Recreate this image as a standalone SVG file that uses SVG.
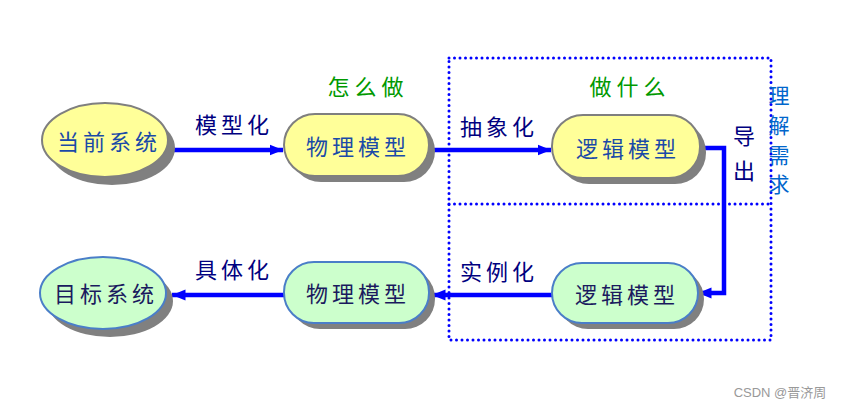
<svg xmlns="http://www.w3.org/2000/svg" width="852" height="410" viewBox="0 0 852 410">
<defs>
<style>
.sh{fill:#808080}
.ny{fill:#FFFF99;stroke:#7F7F7F;stroke-width:2}
.ng{fill:#CCFFCC;stroke:#4A7EC8;stroke-width:2}
.t{font-family:"Noto Sans CJK SC",sans-serif;font-size:22px;letter-spacing:4px;text-anchor:middle;dominant-baseline:central}
.tn{fill:#1A4AA8}
.tg{fill:#1A1A5E}
.lbl{font-family:"Noto Sans CJK SC",sans-serif;font-size:22px;letter-spacing:4px;fill:#000080;text-anchor:middle;dominant-baseline:central}
.v{font-family:"Noto Sans CJK SC",sans-serif;font-size:22px;fill:#000080;text-anchor:middle;dominant-baseline:central}
.grn{font-family:"Noto Sans CJK SC",sans-serif;font-size:22px;letter-spacing:5px;fill:#009900;text-anchor:middle;dominant-baseline:central}
.req{font-family:"Noto Sans CJK SC",sans-serif;font-size:21px;fill:#0066CC;text-anchor:middle;dominant-baseline:central}
.ln{fill:none;stroke:#0000FF;stroke-width:4.5}
.dot{fill:none;stroke:#0000FF;stroke-width:3;stroke-dasharray:0 5.5;stroke-linecap:round}
</style>
<marker id="ah" markerWidth="4" markerHeight="6" refX="3" refY="3" orient="auto" markerUnits="strokeWidth"><path d="M0,1.8 L3,3 L0,4.2 z" fill="#0000FF"/></marker>
</defs>
<rect width="852" height="410" fill="#FFFFFF"/>
<g id="frame">
<path class="dot" d="M449,58 H771 V340 H449 Z"/>
<path class="dot" d="M449,204 H771"/>
</g>
<g id="connectors">
<path class="ln" d="M170,150 H283" marker-end="url(#ah)"/>
<path class="ln" d="M428,150 H551" marker-end="url(#ah)"/>
<path class="ln" d="M700,148 H724 V293 H698" marker-end="url(#ah)"/>
<path class="ln" d="M552,295 H432" marker-end="url(#ah)"/>
<path class="ln" d="M284,295 H172" marker-end="url(#ah)"/>
</g>
<g id="n1">
<ellipse class="sh" cx="112" cy="148" rx="63" ry="37"/>
<ellipse class="ny" cx="105" cy="140" rx="63" ry="37"/>
<text class="t tn" x="109" y="140">当前系统</text>
</g>
<g id="n2">
<rect class="sh" x="290" y="120" width="145" height="62" rx="31"/>
<rect class="ny" x="284" y="114" width="145" height="62" rx="31"/>
<text class="t tn" x="358" y="145">物理模型</text>
</g>
<g id="n3">
<rect class="sh" x="558" y="121" width="148" height="63" rx="31"/>
<rect class="ny" x="552" y="115" width="148" height="63" rx="31"/>
<text class="t tn" x="628" y="147">逻辑模型</text>
</g>
<g id="n4">
<ellipse class="sh" cx="110" cy="301" rx="63" ry="36"/>
<ellipse class="ng" cx="103" cy="293" rx="63" ry="36"/>
<text class="t tg" x="106" y="292">目标系统</text>
</g>
<g id="n5">
<rect class="sh" x="290" y="268" width="145" height="61" rx="30"/>
<rect class="ng" x="284" y="262" width="145" height="61" rx="30"/>
<text class="t tg" x="358" y="292">物理模型</text>
</g>
<g id="n6">
<rect class="sh" x="558" y="269" width="146" height="60" rx="30"/>
<rect class="ng" x="552" y="263" width="146" height="60" rx="30"/>
<text class="t tg" x="627" y="293">逻辑模型</text>
</g>
<g id="labels">
<text class="grn" x="368" y="85">怎么做</text>
<text class="grn" x="630" y="85">做什么</text>
<text class="lbl" x="234" y="123">模型化</text>
<text class="lbl" x="499" y="125">抽象化</text>
<text class="lbl" x="234" y="268">具体化</text>
<text class="lbl" x="499" y="270">实例化</text>
<text class="v" x="744" y="134">导</text>
<text class="v" x="744" y="169">出</text>
<text class="req" x="779" y="94">理</text>
<text class="req" x="779" y="124">解</text>
<text class="req" x="779" y="154">需</text>
<text class="req" x="779" y="183">求</text>
<text x="780" y="392" font-family="'Liberation Sans','Noto Sans CJK SC',sans-serif" font-size="13" fill="#999999" text-anchor="middle" dominant-baseline="central">CSDN @晋济周</text>
</g>
</svg>
